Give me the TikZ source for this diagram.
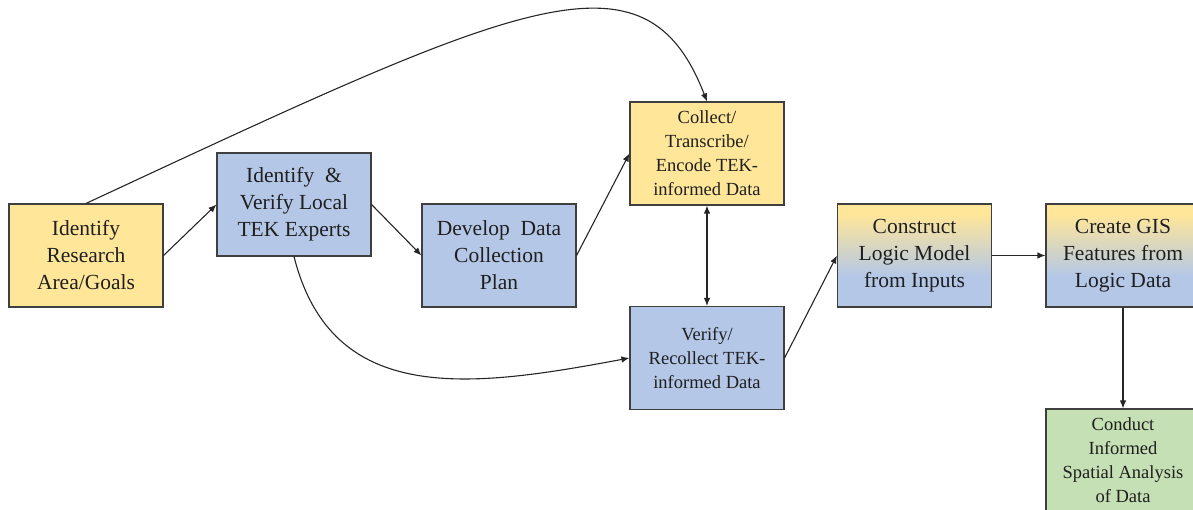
\documentclass[tikz,border=0pt]{standalone}
\usepackage{fontspec}
\setmainfont{LiberationSerif}[Extension=.ttf, UprightFont=*-Regular,
  BoldFont=*-Bold, ItalicFont=*-Italic, BoldItalicFont=*-BoldItalic]
\usetikzlibrary{arrows.meta}

\definecolor{boxyellow}{HTML}{FFE699}
\definecolor{boxblue}{HTML}{B4C7E7}
\definecolor{boxgreen}{HTML}{C5E0B4}
\definecolor{edgegray}{HTML}{3F3F3F}
\definecolor{inkdark}{HTML}{1F1F1F}

% yellow at the top blending into blue towards the bottom
% (the middle 50bp of the shading span the node)
\pgfdeclareverticalshading{yellowblue}{100bp}{%
  color(0bp)=(boxblue); color(40bp)=(boxblue);
  color(70bp)=(boxyellow); color(100bp)=(boxyellow)}

\tikzset{
  stagebox/.style={draw=edgegray, line width=1.1pt, minimum width=154pt,
    minimum height=103pt, inner sep=0pt, align=center, text=inkdark},
  bigtext/.style={font=\rmfamily\fontsize{21.5}{27}\selectfont},
  smalltext/.style={font=\rmfamily\fontsize{18.5}{24}\selectfont},
  yellowbox/.style={stagebox, fill=boxyellow},
  bluebox/.style={stagebox, fill=boxblue},
  greenbox/.style={stagebox, fill=boxgreen},
  mixbox/.style={stagebox, shading=yellowblue},
  flow/.style={draw=black!85, line width=1.1pt,
    -{Latex[length=8pt,width=6.5pt]}},
  twoway/.style={draw=black!85, line width=1.1pt,
    {Latex[length=8pt,width=6.5pt]}-{Latex[length=8pt,width=6.5pt]}}
}

\begin{document}
\begin{tikzpicture}[x=1pt, y=-1pt]
  \useasboundingbox (0,0) rectangle (1193,510);
  \clip (0,0) rectangle (1193,510);

  % stages of the workflow
  \node[yellowbox, bigtext] (goals) at (86,255.5)
    {Identify\\Research\\Area/Goals};
  \node[bluebox, bigtext] (experts) at (294,204.5)
    {Identify \ \&\\Verify Local\\TEK Experts};
  \node[bluebox, bigtext] (plan) at (499,255.5)
    {Develop \ Data\\Collection\\Plan};
  \node[yellowbox, smalltext] (collect) at (707,153.5)
    {Collect/\\Transcribe/\\Encode TEK-\\informed Data};
  \node[bluebox, smalltext] (verify) at (707,358)
    {Verify/\\Recollect TEK-\\informed Data};
  \node[mixbox, bigtext] (logic) at (914.5,255.5)
    {Construct\\Logic Model\\from Inputs};
  \node[mixbox, bigtext] (gis) at (1123,255.5)
    {Create GIS\\Features from\\Logic Data};
  \node[greenbox, smalltext] (spatial) at (1123,460.5)
    {Conduct\\Informed\\Spatial Analysis\\of Data};

  % connectors
  \draw[flow] (goals.east) -- (experts.west);
  \draw[flow] (experts.east) -- (plan.west);
  \draw[flow] (plan.east) -- (collect.west);
  \draw[twoway] (collect.south) -- (verify.north);
  \draw[flow] (verify.east) -- (logic.west);
  \draw[flow] (logic.east) -- (gis.west);
  \draw[flow] (gis.south) -- (spatial.north);

  % long arcs
  \draw[flow] (goals.north) .. controls +(436,-203) and +(-62,-160) .. (collect.north);
  \draw[flow] (experts.south) .. controls +(38,150) and +(-160,30) .. (verify.west);
\end{tikzpicture}
\end{document}
